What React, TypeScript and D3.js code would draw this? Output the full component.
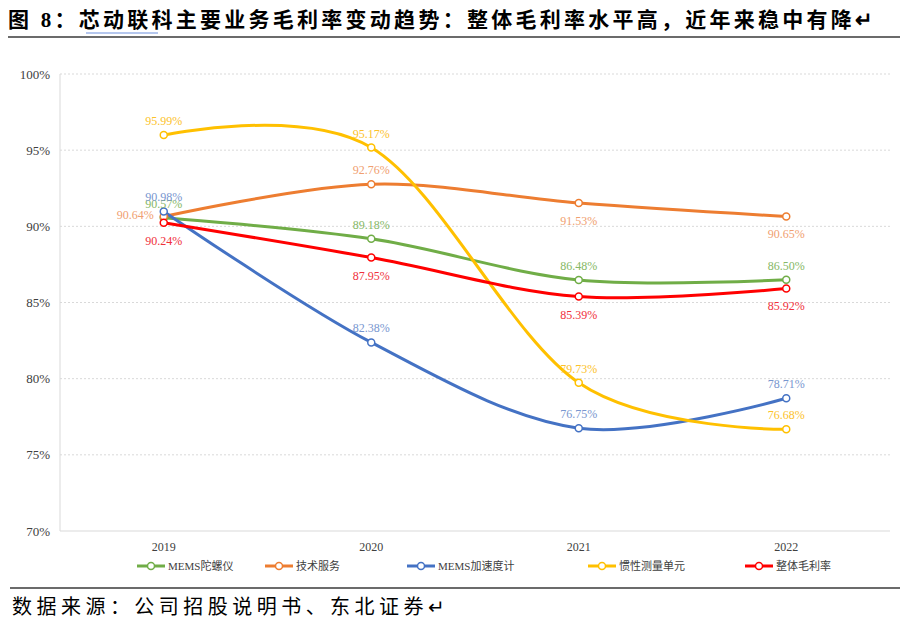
import React from 'react';
import * as d3 from 'd3';

// 芯动联科主要业务毛利率 (%)
const years = ['2019', '2020', '2021', '2022'];
const gyro = [90.57, 89.18, 86.48, 86.5];
const service = [90.64, 92.76, 91.53, 90.65];
const accel = [90.98, 82.38, 76.75, 78.71];
const imu = [95.99, 95.17, 79.73, 76.68];
const overall = [90.24, 87.95, 85.39, 85.92];
const yTicks = [70, 75, 80, 85, 90, 95, 100];

// where each data label sits relative to its point
const gyroPos = ['above', 'above', 'above', 'above'];
const servicePos = ['left', 'above', 'below', 'below'];
const accelPos = ['above', 'above', 'above', 'above'];
const imuPos = ['above', 'above', 'above', 'above'];
const overallPos = ['below', 'below', 'below', 'below'];

const series = [
  { name: 'MEMS陀螺仪', values: gyro, pos: gyroPos, color: '#70AD47', label: '#86b866' },
  { name: '技术服务', values: service, pos: servicePos, color: '#ED7D31', label: '#f0a070' },
  { name: 'MEMS加速度计', values: accel, pos: accelPos, color: '#4472C4', label: '#7896cf' },
  { name: '惯性测量单元', values: imu, pos: imuPos, color: '#FFC000', label: '#fcc22a' },
  { name: '整体毛利率', values: overall, pos: overallPos, color: '#FF0000', label: '#f0303a' },
];

const serif = '"Liberation Serif", "Times New Roman", serif';
const cjk = '"Liberation Serif", "Noto Sans CJK SC", serif';

const App = () => {
  const left = 60, right = 890, top = 74, bottom = 531;
  const x = d3.scaleBand().domain(years).range([left, right]);
  const cx = (d) => (x(d) as number) + x.bandwidth() / 2;
  const y = d3.scaleLinear().domain([70, 100]).range([bottom, top]);

  const line = d3.line<number>()
    .x((_, i) => cx(years[i]))
    .y(d => y(d))
    .curve(d3.curveCardinal.tension(0));

  const legendX = [137, 265, 407, 588, 745];

  return (
    <svg width={900} height={623} style={{ position: 'absolute', left: 0, top: 0, background: '#fff' }}>
      {/* title */}
      <text x={8} y={27} fontFamily={cjk} fontWeight="bold" fontSize={21} fill="#000"
        textLength={865} lengthAdjust="spacing">图 8：芯动联科主要业务毛利率变动趋势：整体毛利率水平高，近年来稳中有降↵</text>
      <line x1={86} x2={158} y1={33} y2={33} stroke="#9db4e8" strokeWidth={1.5} />
      <line x1={8} x2={900} y1={37} y2={37} stroke="#6b6b6b" strokeWidth={2} />

      {/* grid */}
      {yTicks.map(t => (
        <g key={t}>
          {t > 70 && (
            <line x1={left} x2={right} y1={y(t)} y2={y(t)} stroke="#d9d9d9" strokeWidth={1} strokeDasharray="2,2" />
          )}
          <text x={50} y={y(t) + 4.5} textAnchor="end" fontFamily={serif} fontSize={13} fill="#404040">{t}%</text>
        </g>
      ))}
      <line x1={left} x2={right} y1={bottom} y2={bottom} stroke="#d9d9d9" strokeWidth={1} />
      <line x1={left} x2={left} y1={top} y2={bottom} stroke="#d9d9d9" strokeWidth={1} />
      {years.map(yr => (
        <text key={yr} x={cx(yr)} y={551} textAnchor="middle" fontFamily={serif} fontSize={12} fill="#404040">{yr}</text>
      ))}

      {/* lines */}
      {series.map(s => (
        <path key={s.name} d={line(s.values) as string} fill="none" stroke={s.color} strokeWidth={3} />
      ))}
      {series.map(s => (
        <g key={s.name + 'm'}>
          {s.values.map((v, i) => (
            <circle key={i} cx={cx(years[i])} cy={y(v)} r={3.5} fill="#fff" stroke={s.color} strokeWidth={1.5} />
          ))}
        </g>
      ))}

      {/* data labels */}
      {series.map(s => (
        <g key={s.name + 'l'}>
          {s.values.map((v, i) => {
            const px = cx(years[i]);
            const py = y(v);
            const p = s.pos[i];
            const lx = p === 'left' ? px - 10 : px;
            const ly = p === 'above' ? py - 10 : p === 'below' ? py + 22 : py + 2;
            return (
              <text key={i} x={lx} y={ly} textAnchor={p === 'left' ? 'end' : 'middle'}
                fontFamily={serif} fontSize={12} fill={s.label}>{v.toFixed(2)}%</text>
            );
          })}
        </g>
      ))}

      {/* legend */}
      {series.map((s, i) => (
        <g key={s.name + 'lg'} transform={`translate(${legendX[i]},566)`}>
          <line x1={0} x2={28} y1={0} y2={0} stroke={s.color} strokeWidth={3} />
          <circle cx={14} cy={0} r={3.5} fill="#fff" stroke={s.color} strokeWidth={1.5} />
          <text x={31} y={4} fontFamily={cjk} fontSize={11} fill="#404040">{s.name}</text>
        </g>
      ))}

      {/* footer */}
      <line x1={10} x2={900} y1={588} y2={588} stroke="#6b6b6b" strokeWidth={2} />
      <text x={12} y={614} fontFamily={cjk} fontSize={20} fill="#000"
        textLength={433} lengthAdjust="spacing">数据来源：公司招股说明书、东北证券↵</text>
    </svg>
  );
};

export default App;
